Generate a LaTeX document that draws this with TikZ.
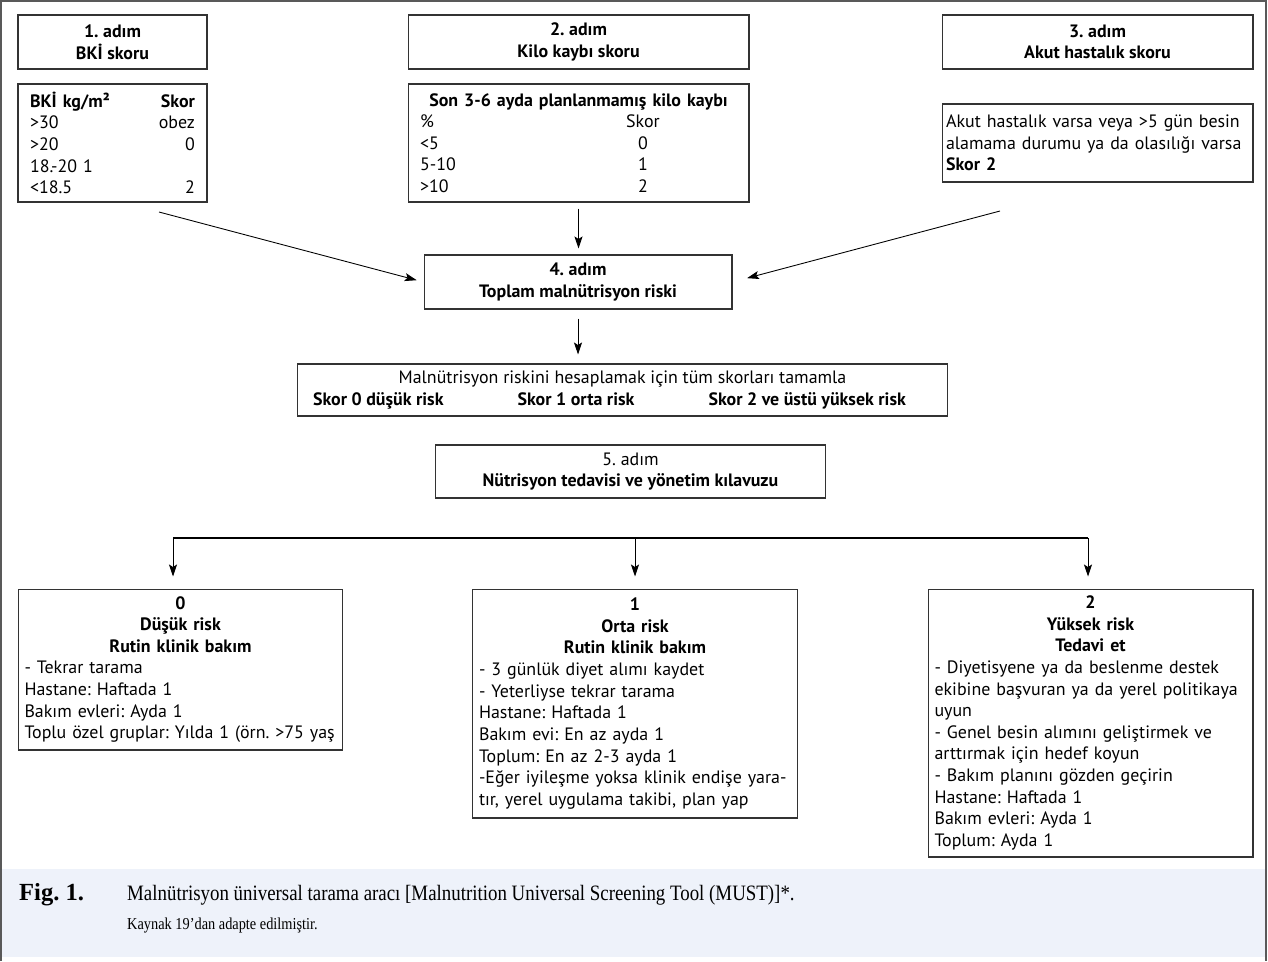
\documentclass[tikz,border=0pt]{standalone}
\usepackage{fontspec}
\setmainfont{PT Sans}
\newfontfamily\capfont[FakeStretch=0.86]{Liberation Serif}
\newfontfamily\figfont{Liberation Serif}
\usetikzlibrary{arrows.meta,positioning}
\definecolor{capbg}{HTML}{EEF2FA}
\frenchspacing
\newcommand{\ctrline}[1]{\makebox[\hsize]{#1}}
\newcommand{\srow}[2]{\makebox[3.86cm][l]{#1}\makebox[1.2cm]{#2}}
\tikzset{
  box/.style={draw=black!80, line width=0.6pt, inner xsep=0.08cm, inner ysep=0pt,
    font=\fontsize{10.2}{12.3}\selectfont},
  head/.style={box, align=center, font=\fontsize{10.2}{12.3}\selectfont\bfseries},
  arr/.style={-{Stealth[length=0.24cm,width=0.16cm,inset=0.05cm]}, line width=0.5pt},
  frame/.style={draw=black!65, line width=0.8pt},
}
\begin{document}
\begin{tikzpicture}[x=0.02cm, y=-0.02cm]
\useasboundingbox (0,0) rectangle (1268,961);
\fill[capbg] (2,869) rectangle (1265,957);
\draw[frame] (1,961) -- (1,1) -- (1266,1) -- (1266,961);

\node[head, minimum width=3.78cm, minimum height=1.08cm] (adim1) at (112.5,42) {1. adım\\BKİ skoru};
\node[head, minimum width=6.82cm, minimum height=1.08cm] (adim2) at (578.5,42) {2. adım\\Kilo kaybı skoru};
\node[head, minimum width=6.22cm, minimum height=1.08cm] (adim3) at (1097.5,42) {3. adım\\Akut hastalık skoru};

\node[box, text width=3.3cm, minimum width=3.78cm, minimum height=2.36cm, align=left] (bki) at (112.5,143)
  {\textbf{BKİ kg/m²}\hfill\textbf{Skor}\\ >30\hfill obez\\ >20\hfill 0\hspace*{0.2cm}\\ 18.-20 1\\ <18.5\hfill 2\hspace*{0.2cm}};
\node[box, text width=6.34cm, minimum width=6.82cm, minimum height=2.36cm, align=left] (kilo) at (578.5,143)
  {\ctrline{\bfseries Son 3-6 ayda planlanmamış kilo kaybı}\\ \srow{\%}{Skor}\\ \srow{<5}{0}\\ \srow{5-10}{1}\\ \srow{>10}{2}};
\node[box, text width=6.06cm, minimum width=6.22cm, minimum height=1.56cm, align=left] (akut) at (1097.5,143)
  {Akut hastalık varsa veya >5 gün besin\\ alamama durumu ya da olasılığı varsa\\ \textbf{Skor 2}};

\node[head, minimum width=6.16cm, minimum height=1.08cm] (adim4) at (578,282) {4. adım\\Toplam malnütrisyon riski};

\node[box, align=center, minimum width=13.02cm, minimum height=1.04cm] (skor) at (622.5,390)
  {Malnütrisyon riskini hesaplamak için tüm skorları tamamla\\
   \makebox[11.86cm]{\bfseries Skor 0 düşük risk\hfill Skor 1 orta risk\hfill Skor 2 ve üstü yüksek risk}\hspace*{0.52cm}};
\node[box, align=center, minimum width=7.82cm, minimum height=1.06cm] (adim5) at (630.5,471.5)
  {5. adım\\\textbf{Nütrisyon tedavisi ve yönetim kılavuzu}};

\node[box, text width=6.24cm, minimum width=6.5cm, minimum height=3.22cm, align=left] (risk0) at (180.5,669.5)
  {\ctrline{\bfseries 0}\\ \ctrline{\bfseries Düşük risk}\\ \ctrline{\bfseries Rutin klinik bakım}\\
   - Tekrar tarama\\ Hastane: Haftada 1\\ Bakım evleri: Ayda 1\\ Toplu özel gruplar: Yılda 1 (örn. >75 yaş};
\node[box, text width=6.24cm, minimum width=6.5cm, minimum height=4.58cm, align=left] (risk1) at (635,703.5)
  {\ctrline{\bfseries 1}\\ \ctrline{\bfseries Orta risk}\\ \ctrline{\bfseries Rutin klinik bakım}\\
   - 3 günlük diyet alımı kaydet\\ - Yeterliyse tekrar tarama\\ Hastane: Haftada 1\\ Bakım evi: En az ayda 1\\
   Toplum: En az 2-3 ayda 1\\ -Eğer iyileşme yoksa klinik endişe yara-\\ tır, yerel uygulama takibi, plan yap};
\node[box, text width=6.24cm, minimum width=6.5cm, minimum height=5.36cm, align=left] (risk2) at (1090.5,723)
  {\ctrline{\bfseries 2}\\ \ctrline{\bfseries Yüksek risk}\\ \ctrline{\bfseries Tedavi et}\\
   - Diyetisyene ya da beslenme destek\\ ekibine başvuran ya da yerel politikaya\\ uyun\\
   - Genel besin alımını geliştirmek ve\\ arttırmak için hedef koyun\\ - Bakım planını gözden geçirin\\
   Hastane: Haftada 1\\ Bakım evleri: Ayda 1\\ Toplum: Ayda 1};

\coordinate (bkiout) at (159,212);
\coordinate (akutout) at (1000,211);
\draw[arr, shorten >=0.14cm] (bkiout) -- (adim4.west);
\draw[arr, shorten >=0.3cm] (akutout) -- (adim4.east);
\draw[arr, shorten <=0.12cm, shorten >=0.12cm] (kilo.south) -- (kilo.south |- adim4.north);
\draw[arr, shorten <=0.18cm, shorten >=0.18cm] (adim4.south) -- (adim4.south |- skor.north);

\coordinate (splitL) at (173,538);
\coordinate (splitM) at (635,538);
\coordinate (splitR) at (1088,538);
\draw[line width=0.6pt] (splitL) -- (splitR);
\foreach \c/\b in {splitL/risk0, splitM/risk1, splitR/risk2}
  \draw[arr, shorten >=0.24cm] (\c) -- (\c |- \b.north);

\node[anchor=west, font=\figfont\fontsize{14}{16}\selectfont\bfseries] (fig) at (13,895) {Fig. 1.};
\node[anchor=west, font=\capfont\fontsize{12.5}{15}\selectfont] (captxt) at (121,895)
  {Malnütrisyon üniversal tarama aracı [Malnutrition Universal Screening Tool (MUST)]*.};
\node[anchor=west, font=\capfont\fontsize{9.5}{11}\selectfont] (kaynak) at (121,925) {Kaynak 19’dan adapte edilmiştir.};
\end{tikzpicture}
\end{document}
